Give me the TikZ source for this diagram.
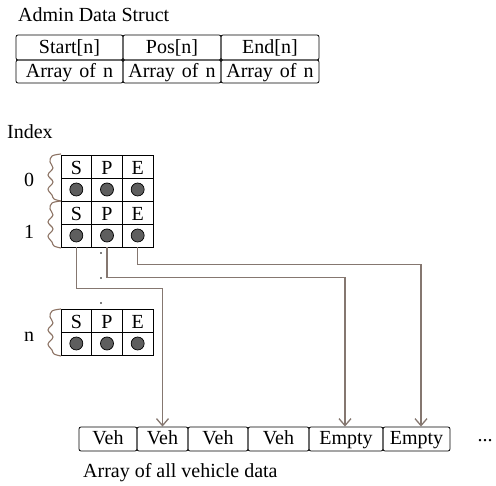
\documentclass[tikz,border=0pt]{standalone}
\usepackage{fontspec}
\setmainfont{Liberation Serif}
\usetikzlibrary{arrows.meta}
\definecolor{conncol}{HTML}{857770}
\definecolor{bracecol}{HTML}{8C7364}
\definecolor{dotfill}{HTML}{5E5E5E}
\newcommand{\mywavybrace}[1]{%
  \draw[brc, shift={(61,#1)}] plot[smooth, tension=0.6] coordinates
    {(0,-1) (-9,1) (-11,7) (-8,13) (-13,20) (-8,27) (-13,34) (-9,40) (-7,44) (0,46)};}
\begin{document}
\begin{tikzpicture}[x=1pt,y=-1pt,
  every node/.style={font=\fontsize{20}{24}\selectfont, inner sep=0pt},
  tcell/.style={draw, rounded corners=2pt, line width=0.8pt, text height=13pt, text depth=1pt},
  gcell/.style={draw, line width=0.8pt, minimum width=30.67pt, minimum height=23pt, text height=17pt, text depth=0pt},
  gdot/.style={circle, draw, line width=0.7pt, fill=dotfill, minimum size=13pt},
  brc/.style={draw=bracecol, line width=1.1pt},
  conn/.style={draw=conncol, line width=1.3pt, -{Straight Barb[length=7pt,width=12pt]}},
  lbl/.style={anchor=base west},
  smalldot/.style={circle, fill=black, minimum size=1.6pt}
]
\useasboundingbox (0,0) rectangle (496,486);

% Admin data struct
\node[lbl] (title) at (18,22) {Admin Data Struct};
\node[tcell, minimum width=107pt, minimum height=25pt] (hs) at (69.5,47.5) {Start[n]};
\node[tcell, minimum width=98pt, minimum height=25pt] (hp) at (172,47.5) {Pos[n]};
\node[tcell, minimum width=98pt, minimum height=25pt] (he) at (270,47.5) {End[n]};
\node[tcell, minimum width=107pt, minimum height=23pt] (as) at (69.5,71.5) {Array\hspace{7pt}of\hspace{7pt}n};
\node[tcell, minimum width=98pt, minimum height=23pt] (ap) at (172,71.5) {Array\hspace{7pt}of\hspace{7pt}n};
\node[tcell, minimum width=98pt, minimum height=23pt] (ae) at (270,71.5) {Array\hspace{7pt}of\hspace{7pt}n};

% Index
\node[lbl] (index) at (7,139) {Index};

% block 0
\node[gcell] (s0) at (76.33,166.5) {S};
\node[gcell] (p0) at (107,166.5) {P};
\node[gcell] (e0) at (137.67,166.5) {E};
\node[gcell] (s0d) at (76.33,189.5) {};
\node[gcell] (p0d) at (107,189.5) {};
\node[gcell] (e0d) at (137.67,189.5) {};
\node[gdot] (c0s) at (s0d) {};
\node[gdot] (c0p) at (p0d) {};
\node[gdot] (c0e) at (e0d) {};
% block 1
\node[gcell] (s1) at (76.33,212.5) {S};
\node[gcell] (p1) at (107,212.5) {P};
\node[gcell] (e1) at (137.67,212.5) {E};
\node[gcell] (s1d) at (76.33,235.5) {};
\node[gcell] (p1d) at (107,235.5) {};
\node[gcell] (e1d) at (137.67,235.5) {};
\node[gdot] (c1s) at (s1d) {};
\node[gdot] (c1p) at (p1d) {};
\node[gdot] (c1e) at (e1d) {};
% block n
\node[gcell] (sn) at (76.33,320.5) {S};
\node[gcell] (pn) at (107,320.5) {P};
\node[gcell] (en) at (137.67,320.5) {E};
\node[gcell] (snd) at (76.33,343.5) {};
\node[gcell] (pnd) at (107,343.5) {};
\node[gcell] (end) at (137.67,343.5) {};
\node[gdot] (cns) at (snd) {};
\node[gdot] (cnp) at (pnd) {};
\node[gdot] (cne) at (end) {};

% braces and labels
\mywavybrace{155}
\mywavybrace{202}
\mywavybrace{310}
\node[anchor=base] (l0) at (29,187) {0};
\node[anchor=base] (l1) at (29,239) {1};
\node[anchor=base] (ln) at (29,342) {n};

% vertical ellipsis dots
\node[smalldot] (d1) at (101,253) {};
\node[smalldot] (d2) at (101,278) {};
\node[smalldot] (d3) at (101,303) {};

% vehicle array
\node[tcell, minimum width=58pt, minimum height=24pt] (v1) at (108,439) {Veh};
\node[tcell, minimum width=51pt, minimum height=24pt] (v2) at (162.5,439) {Veh};
\node[tcell, minimum width=60pt, minimum height=24pt] (v3) at (218,439) {Veh};
\node[tcell, minimum width=61pt, minimum height=24pt] (v4) at (278.5,439) {Veh};
\node[tcell, minimum width=74pt, minimum height=24pt] (v5) at (346,439) {Empty};
\node[tcell, minimum width=67pt, minimum height=24pt] (v6) at (416.5,439) {Empty};
\node[anchor=base] (more) at (485,442) {...};
\node[lbl] (cap) at (83,478) {Array of all vehicle data};

% connectors
\draw[conn] (s1d.south) -- ++(0,41) -| (v2.north);
\draw[conn] (p1d.south) -- ++(0,30) -| ([xshift=-1pt]v5.north);
\draw[conn] (e1d.south) -- ++(0,17) -| ([xshift=4.5pt]v6.north);
\end{tikzpicture}
\end{document}
